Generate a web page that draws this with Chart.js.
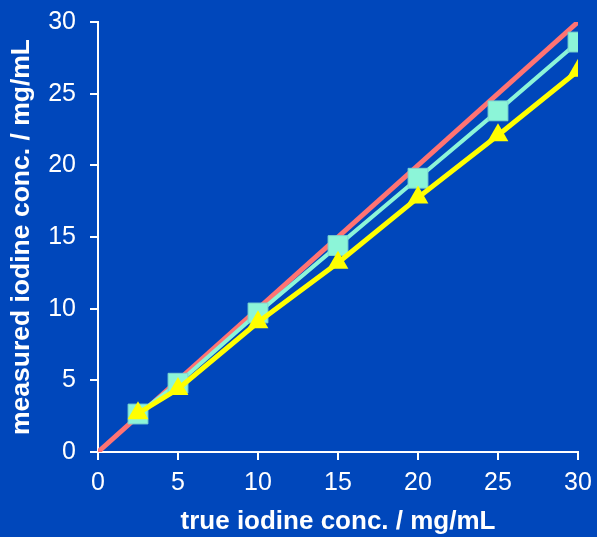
<!DOCTYPE html>
<html><head><meta charset="utf-8">
<script src="https://cdn.jsdelivr.net/npm/chart.js"></script>
<style>html,body{margin:0;padding:0;background:#0047BB;}#w{width:597px;height:537px;}</style>
</head><body><div id="w"><canvas id="c"></canvas></div>
<script>
const trueConc = [2.5, 5, 10, 15, 20, 25, 30];
const squareSeries = [2.65, 4.8, 9.7, 14.4, 19.1, 23.8, 28.6];
const triangleSeries = [2.7, 4.4, 9.05, 13.2, 17.75, 22.1, 26.6];
const identityX = [0, 30];
const identityY = [0, 30];
const xTicks = [0, 5, 10, 15, 20, 25, 30];
const yTicks = [0, 5, 10, 15, 20, 25, 30];

const pts = (xs, ys) => xs.map((x, i) => ({x: x, y: ys[i]}));

new Chart(document.getElementById('c'), {
  type: 'scatter',
  data: {
    datasets: [
      {data: pts(identityX, identityY), showLine: true, borderColor: '#FF7373', borderWidth: 5, pointRadius: 0, order: 3},
      {data: pts(trueConc, squareSeries), showLine: true, borderColor: '#8CF5D8', backgroundColor: '#8CF5D8', borderWidth: 4,
       pointStyle: 'rect', pointRadius: 14, pointBorderColor: '#7DD8D0', pointBorderWidth: 1, order: 2},
      {data: pts(trueConc, triangleSeries), showLine: true, borderColor: '#FFFF00', backgroundColor: '#FFFF00', borderWidth: 5,
       pointStyle: 'triangle', pointRadius: 12, pointBorderWidth: 0, order: 1}
    ]
  },
  options: {
    responsive: true, maintainAspectRatio: false, animation: false,
    layout: {padding: {left: 0, right: 19, top: 22, bottom: 0}},
    plugins: {legend: {display: false}, tooltip: {enabled: false}},
    scales: {
      x: {
        type: 'linear', min: 0, max: 30,
        afterBuildTicks: s => { s.ticks = xTicks.map(v => ({value: v})); },
        afterFit: s => { s.height = 85; s.paddingLeft = 0; s.paddingRight = 0; },
        grid: {drawOnChartArea: false, color: '#FFFFFF', tickLength: 8, lineWidth: 2},
        border: {color: '#FFFFFF', width: 2},
        ticks: {color: '#FFFFFF', font: {family: 'Liberation Sans', size: 25}, padding: 8, maxRotation: 0},
        title: {display: true, text: 'true iodine conc. / mg/mL', color: '#FFFFFF', font: {family: 'Liberation Sans', size: 26, weight: 'bold'}, padding: {top: 2, bottom: 0}}
      },
      y: {
        type: 'linear', min: 0, max: 30,
        afterBuildTicks: s => { s.ticks = yTicks.map(v => ({value: v})); },
        afterFit: s => { s.width = 98; s.paddingTop = 0; s.paddingBottom = 0; },
        grid: {drawOnChartArea: false, color: '#FFFFFF', tickLength: 8, lineWidth: 2},
        border: {color: '#FFFFFF', width: 2},
        ticks: {color: '#FFFFFF', font: {family: 'Liberation Sans', size: 25}, padding: 14},
        title: {display: true, text: 'measured iodine conc. / mg/mL', color: '#FFFFFF', font: {family: 'Liberation Sans', size: 26.5, weight: 'bold'}, padding: {top: 6, bottom: 0}}
      }
    }
  }
});
</script></body></html>
